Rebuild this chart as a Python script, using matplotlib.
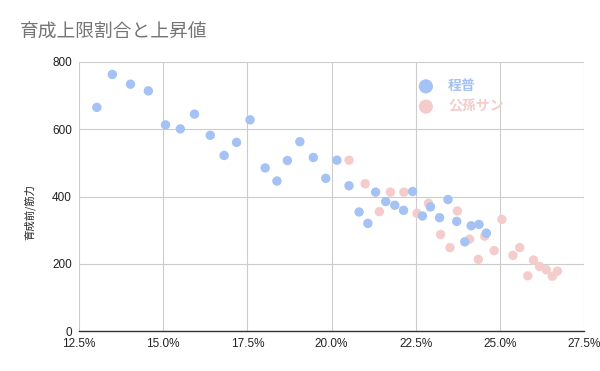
import matplotlib
matplotlib.use("Agg")
import matplotlib.pyplot as plt
from matplotlib.ticker import FuncFormatter, MultipleLocator

# Data (x = 育成上限割合 in %, y = 上昇値)
teifu_x = [13.03, 13.49, 14.03, 14.56, 15.07, 15.51, 15.93, 16.40, 16.81, 17.18,
           17.58, 18.03, 18.38, 18.69, 19.06, 19.46, 19.83, 20.16, 20.52, 20.82,
           21.08, 21.31, 21.61, 21.88, 22.14, 22.41, 22.70, 22.94, 23.21, 23.46,
           23.72, 23.96, 24.15, 24.38, 24.60]
teifu_y = [665, 763, 734, 714, 613, 601, 645, 582, 522, 561,
           628, 485, 446, 507, 563, 516, 454, 508, 432, 354,
           320, 413, 385, 374, 359, 415, 342, 369, 337, 391,
           326, 265, 313, 317, 291]

kouson_x = [20.52, 21.00, 21.42, 21.75, 22.15, 22.54, 22.88, 23.24, 23.52, 23.74,
            24.10, 24.36, 24.55, 24.83, 25.06, 25.39, 25.59, 25.83, 26.00, 26.18,
            26.38, 26.56, 26.71]
kouson_y = [508, 438, 355, 413, 413, 350, 380, 287, 248, 357,
            273, 213, 282, 239, 332, 225, 248, 164, 211, 192,
            182, 163, 178]

series_names = ["程普", "公孫サン"]
title = "育成上限割合と上昇値"
ylabel = "育成前/筋力"

BLUE = "#a4c2f4"
PINK = "#f4cccc"

plt.rcParams['font.family'] = ['Noto Sans CJK JP', 'DejaVu Sans']

fig = plt.figure(figsize=(6.0, 3.71), dpi=100)
ax = fig.add_axes([79/600, 1-331/371, (584-79)/600, (331-62)/371])

ax.scatter([v/100 for v in kouson_x], kouson_y, s=46, color=PINK, edgecolors='none',
           zorder=3, label=series_names[1])
ax.scatter([v/100 for v in teifu_x], teifu_y, s=46, color=BLUE, edgecolors='none',
           zorder=4, label=series_names[0])

ax.set_xlim(0.125, 0.275)
ax.set_ylim(0, 800)
ax.xaxis.set_major_locator(MultipleLocator(0.025))
ax.yaxis.set_major_locator(MultipleLocator(200))
ax.xaxis.set_major_formatter(FuncFormatter(lambda v, p: f"{v*100:.1f}%"))
ax.yaxis.set_major_formatter(FuncFormatter(lambda v, p: f"{int(v)}"))

ax.grid(True, color='#cccccc', linewidth=0.8, zorder=0)
ax.set_axisbelow(True)
for s in ['top', 'right', 'left']:
    ax.spines[s].set_visible(False)
ax.spines['bottom'].set_color('#333333')
ax.spines['bottom'].set_linewidth(1.0)
ax.spines['bottom'].set_zorder(5)
ax.tick_params(length=0, pad=5, labelsize=8.5, colors='#222222')
for lab in ax.get_xticklabels() + ax.get_yticklabels():
    lab.set_family(['Liberation Sans', 'DejaVu Sans'])

fig.text(20/600, 1-32/371, title, fontsize=13.5, color='#757575', va='center', ha='left')
fig.text(30/600, 1-212/371, ylabel, fontsize=7.5, color='#222222', rotation=90,
         va='center', ha='center')

h, l = ax.get_legend_handles_labels()
leg = ax.legend([h[1], h[0]], [l[1], l[0]], loc='upper left',
                bbox_to_anchor=((412-79)/505, (331-79)/269),
                frameon=False, markerscale=1.5, handletextpad=0.6,
                labelspacing=0.45, borderaxespad=0, borderpad=0,
                prop={'weight': 'bold', 'size': 10})
for t, c in zip(leg.get_texts(), [BLUE, PINK]):
    t.set_color(c)

fig.savefig("out.png", dpi=100)
